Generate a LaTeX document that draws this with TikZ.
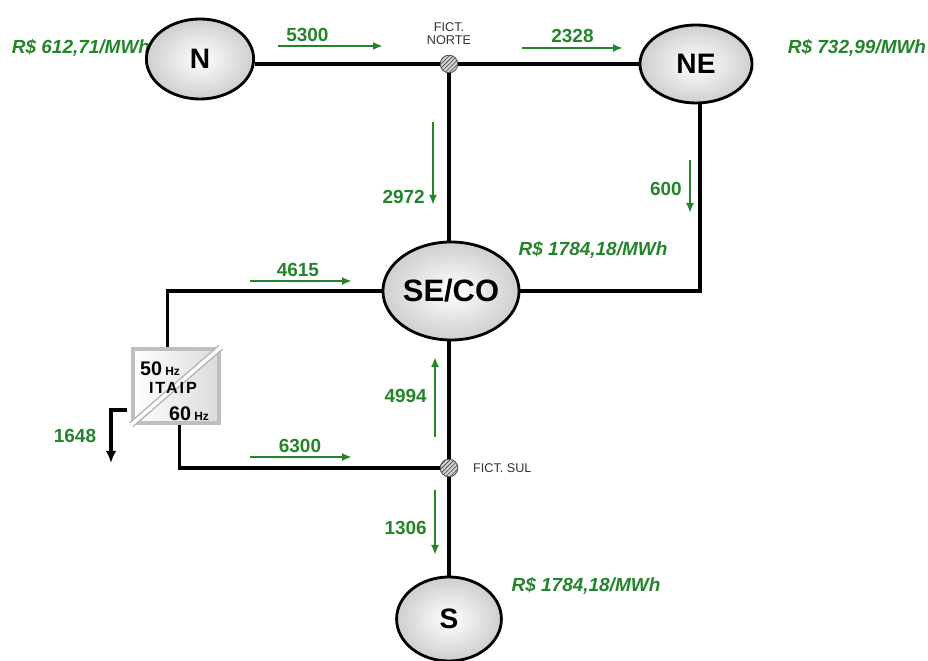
\documentclass[tikz,border=0pt]{standalone}
\usepackage{fontspec}
\setmainfont{Liberation Sans}
\usetikzlibrary{arrows.meta,positioning,shapes.geometric,patterns}
\definecolor{flowgreen}{RGB}{36,132,44}
\tikzset{
  area/.style={ellipse,draw=black,line width=2pt,inner color=white,outer color=gray!38,font=\bfseries\fontsize{20}{20}\selectfont,inner sep=0pt},
  fict/.style={circle,draw=gray!60!black,line width=0.6pt,minimum size=0.44cm,inner sep=0pt,preaction={fill=gray!35},pattern=north east lines,pattern color=gray!55!black},
  fictlbl/.style={text=black!80,font=\fontsize{9}{9.5}\selectfont,align=center,inner sep=1pt},
  tie/.style={line width=2.2pt,black},
  export/.style={black,line width=2.4pt,-{Latex[length=3mm,width=2.6mm]}},
  flow/.style={flowgreen,line width=1.7pt,-{Latex[length=2.5mm,width=2mm]}},
  flowlbl/.style={text=flowgreen,font=\bfseries\fontsize{13.5}{13.5}\selectfont,inner sep=1pt},
  price/.style={text=flowgreen,font=\bfseries\itshape\fontsize{13.5}{13.5}\selectfont,inner sep=0pt}
}
\begin{document}
\begin{tikzpicture}[x=0.025cm,y=-0.025cm,>=Latex]
\useasboundingbox (0,0) rectangle (928,661);

% prices
\node[price] (pN) at (81,48) {R\$ 612,71/MWh};
\node[price] (pNE) at (857,48) {R\$ 732,99/MWh};
\node[price] (pSE) at (593,250) {R\$ 1784,18/MWh};
\node[price] (pS) at (586,586) {R\$ 1784,18/MWh};

% areas and fictitious buses
\node[area,minimum width=2.68cm,minimum height=2cm] (N) at (200,59) {N};
\node[area,minimum width=2.8cm,minimum height=1.95cm] (NE) at (696,64) {NE};
\node[area,minimum width=3.1cm,minimum height=2.45cm,font=\bfseries\fontsize{22}{22}\selectfont] (SE) at (451,291) {SE/CO};
\node[area,minimum width=2.62cm,minimum height=2.1cm] (S) at (449,619) {S};
\node[fict] (fn) at (449,64) {};
\node[fict] (fs) at (449,468) {};
\node[fictlbl,above=0.2cm of fn] (fnlbl) {FICT.\\NORTE};
\node[fictlbl,right=0.33cm of fs] (fslbl) {FICT. SUL};

% itaipu converter
\node[draw=gray!50,line width=2.4pt,left color=white,right color=gray!28,minimum width=2.15cm,minimum height=1.85cm,inner sep=0pt] (itaipu) at (176,386) {};
\draw[draw=gray!60,double=white,double distance=2.5pt,line width=1pt] (itaipu.south west) -- (itaipu.north east);
\node[font=\bfseries\fontsize{11.5}{11.5}\selectfont\addfontfeatures{LetterSpace=12},inner sep=0pt] (itlbl) at (173,388) {ITAIP};
\node[font=\bfseries\fontsize{14}{14}\selectfont,inner sep=0pt] (hz50) at (160,369) {50\,{\fontsize{8.5}{8.5}\selectfont Hz}};
\node[font=\bfseries\fontsize{14}{14}\selectfont,inner sep=0pt] (hz60) at (189,414) {60\,{\fontsize{8.5}{8.5}\selectfont Hz}};

% lines
\draw[tie] (fn -| N.east) -- (fn);
\draw[tie] (fn) -- (NE.west);
\draw[tie] (fn) -- (fn |- SE.north);
\draw[tie] ([xshift=0.1cm]NE.south) |- (SE.east);
\draw[tie] (SE.west) -| ([xshift=-0.22cm]itaipu.north);
\draw[tie] ([xshift=0.08cm]itaipu.south) |- (fs);
\draw[tie] (fs |- SE.south) -- (fs);
\draw[tie] (fs) -- (S.north);
\coordinate (exp) at (111,463);
\draw[export] ([xshift=-0.12cm,yshift=-0.6cm]itaipu.west) -| (exp);
\node[flowlbl] (f1648) at (75,436) {1648};

% flows
\draw[flow] (278,46) -- node[flowlbl,above=1pt,pos=0.28] (f5300) {5300} (383,46);
\draw[flow] (522,48) -- node[flowlbl,above=2pt] (f2328) {2328} (623,48);
\draw[flow] (433,122) -- node[flowlbl,left=4pt,pos=0.9] (f2972) {2972} (433,205);
\draw[flow] (690,160) -- node[flowlbl,left=4pt,pos=0.55] (f600) {600} (690,213);
\draw[flow] (250,281) -- node[flowlbl,above=1pt,pos=0.47] (f4615) {4615} (352,281);
\draw[flow] (435,437) -- node[flowlbl,left=4pt,pos=0.51] (f4994) {4994} (435,357);
\draw[flow] (250,457) -- node[flowlbl,above=1pt,pos=0.49] (f6300) {6300} (352,457);
\draw[flow] (435,490) -- node[flowlbl,left=4pt,pos=0.58] (f1306) {1306} (435,555);
\end{tikzpicture}
\end{document}
